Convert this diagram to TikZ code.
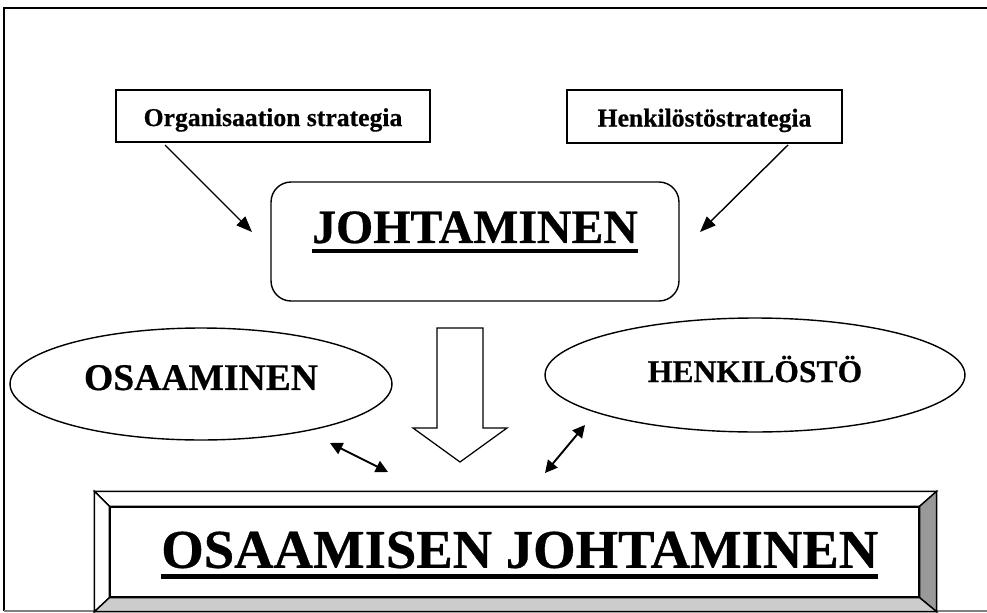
\documentclass[tikz,border=0pt]{standalone}
\usepackage{fontspec}
\setmainfont{Liberation Serif}[BoldFeatures={FakeBold=0.6}]
\usetikzlibrary{arrows.meta,shapes.geometric}
\newcommand{\thickul}[1]{\setbox0\hbox{#1}\rlap{\rule[-0.21em]{\wd0}{0.09em}}\box0}
\begin{document}
\begin{tikzpicture}[x=0.02cm, y=-0.02cm, >=Stealth, line width=0.8pt,
stratbox/.style={rectangle, draw, inner sep=0pt, font=\bfseries\fontsize{14.6}{16}\selectfont,
  text height=12.4pt, text depth=1pt},
leadbox/.style={rectangle, draw, rounded corners=0.4cm, minimum width=8.16cm, minimum height=2.38cm,
  font=\bfseries\fontsize{27.2}{30}\selectfont, text height=18.7pt, text depth=17pt},
oval/.style={ellipse, draw, inner sep=0pt, font=\bfseries\fontsize{21.4}{24}\selectfont,
  text height=15.3pt, text depth=8.5pt},
innerbox/.style={rectangle, draw, minimum width=16.18cm, minimum height=1.8cm,
  font=\bfseries\fontsize{31.1}{34}\selectfont, text height=21.5pt, text depth=3.5pt},
bevelface/.style={draw, line join=miter},
feed/.style={->, >={Triangle[length=9pt,width=7pt]}},
link/.style={<->, >={Triangle[length=7pt,width=7pt]}, line width=1.1pt}]
  \useasboundingbox (0,0) rectangle (987,612);
  % frame
  \draw[line width=1.2pt] (987,8) -- (4,8) -- (4,611);
  \draw[gray, line width=1pt] (4,611) -- (987,611);
  % strategies
  \node[stratbox, minimum width=6.28cm, minimum height=1.04cm] (orgstrat) at (273,116) {Organisaation strategia};
  \node[stratbox, minimum width=5.5cm, minimum height=1.06cm] (henkstrat) at (704.5,116.5) {Henkilöstöstrategia};
  \node[leadbox] (johto) at (475,241.5) {\thickul{JOHTAMINEN}};
  \coordinate (orgtail) at (165,145);
  \coordinate (orghead) at (252,232);
  \coordinate (henktail) at (788,145);
  \coordinate (henkhead) at (700,232);
  \draw[feed] (orgtail) -- (orghead);
  \draw[feed] (henktail) -- (henkhead);
  % resources
  \node[oval, minimum width=7.64cm, minimum height=2.24cm] (osaam) at (201,384) {OSAAMINEN};
  \node[oval, minimum width=8.4cm, minimum height=2.28cm, font=\bfseries\fontsize{18}{20}\selectfont,
    text height=15pt, text depth=7pt] (henk) at (755,375) {HENKILÖSTÖ};
  % big arrow
  \draw[fill=white, line width=0.7pt] (437,328) -- (483,328) -- (483,428) -- (507,428)
    -- (460,462) -- (413,428) -- (437,428) -- cycle;
  % result
  \node[minimum width=16.82cm, minimum height=2.38cm] (bevelout) at (515.5,551.5) {};
  \node[innerbox] (skill) at (514.5,552) {\kern6pt\thickul{OSAAMISEN JOHTAMINEN}};
  \draw[bevelface, fill=white] (bevelout.north west) -- (bevelout.north east) -- (skill.north east) -- (skill.north west) -- cycle;
  \draw[bevelface, fill=white] (bevelout.north west) -- (skill.north west) -- (skill.south west) -- (bevelout.south west) -- cycle;
  \draw[bevelface, fill=black!40] (bevelout.north east) -- (bevelout.south east) -- (skill.south east) -- (skill.north east) -- cycle;
  \draw[bevelface, fill=black!20] (bevelout.south west) -- (bevelout.south east) -- (skill.south east) -- (skill.south west) -- cycle;
  \coordinate (osaend) at (330,443);
  \coordinate (skillleft) at (388,472);
  \coordinate (henkend) at (585,425);
  \coordinate (skillright) at (545,473);
  \draw[link] (osaend) -- (skillleft);
  \draw[link] (henkend) -- (skillright);
\end{tikzpicture}
\end{document}
